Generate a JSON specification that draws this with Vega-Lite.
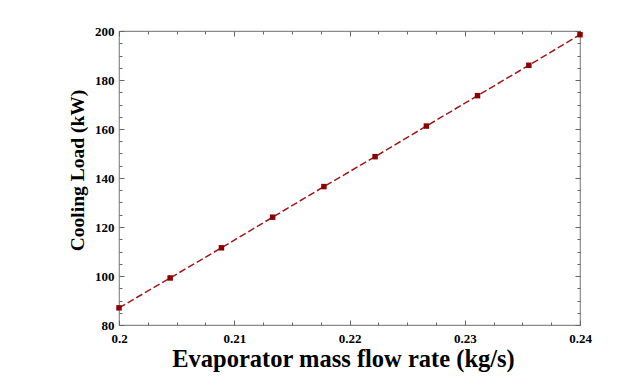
{
  "$schema": "https://vega.github.io/schema/vega-lite/v6.json",
  "width": 461,
  "height": 294,
  "autosize": {"type": "none"},
  "padding": {"left": 119, "top": 31, "right": 63, "bottom": 60},
  "background": "white",
  "config": {
    "view": {"stroke": "#8a8a8a", "strokeWidth": 1.2},
    "axis": {
      "grid": false,
      "domain": false,
      "tickColor": "#666666",
      "labelFont": "Liberation Serif",
      "labelFontWeight": "bold",
      "labelFontSize": 13,
      "labelColor": "black",
      "titleFont": "Liberation Serif",
      "titleFontWeight": "bold",
      "titleColor": "black"
    }
  },
  "data": {
    "values": [
      {"flow": 0.2, "load": 87},
      {"flow": 0.20444, "load": 99.2},
      {"flow": 0.20889, "load": 111.5},
      {"flow": 0.21333, "load": 124},
      {"flow": 0.21778, "load": 136.5},
      {"flow": 0.22222, "load": 148.7},
      {"flow": 0.22667, "load": 161.2},
      {"flow": 0.23111, "load": 173.6},
      {"flow": 0.23556, "load": 186},
      {"flow": 0.24, "load": 198.5}
    ]
  },
  "resolve": {"axis": {"x": "independent", "y": "independent"}},
  "layer": [
    {
      "mark": {"type": "line", "color": "#a01818", "strokeWidth": 1.5, "strokeDash": [7, 3]},
      "encoding": {
        "x": {"field": "flow", "type": "quantitative",
          "scale": {"domain": [0.2, 0.24], "nice": false, "zero": false},
          "axis": {"orient": "bottom", "values": [0.2, 0.21, 0.22, 0.23, 0.24], "format": "~g",
            "tickSize": -5, "labelPadding": 12, "labelFlush": false,
            "title": "Evaporator mass flow rate (kg/s)", "titleFontSize": 24.5, "titlePadding": 2, "titleX": 224}},
        "y": {"field": "load", "type": "quantitative",
          "scale": {"domain": [80, 200], "nice": false, "zero": false},
          "axis": {"orient": "left", "values": [80, 100, 120, 140, 160, 180, 200],
            "tickSize": -5, "labelPadding": 10, "labelFlush": false,
            "title": "Cooling Load (kW)", "titleFontSize": 19.5, "titlePadding": 7, "titleY": 139}}
      }
    },
    {
      "mark": {"type": "square", "color": "#8b0000", "opacity": 1, "size": 30},
      "encoding": {
        "x": {"field": "flow", "type": "quantitative",
          "axis": {"orient": "top", "values": [0.2, 0.21, 0.22, 0.23, 0.24], "tickSize": -5, "labels": false, "title": null}},
        "y": {"field": "load", "type": "quantitative",
          "axis": {"orient": "right", "values": [80, 100, 120, 140, 160, 180, 200], "tickSize": -5, "labels": false, "title": null}}
      }
    },
    {
      "mark": {"type": "point", "opacity": 0},
      "encoding": {
        "x": {"field": "flow", "type": "quantitative",
          "axis": {"orient": "bottom", "values": [0.2025, 0.205, 0.2075, 0.2125, 0.215, 0.2175, 0.2225, 0.225, 0.2275, 0.2325, 0.235, 0.2375], "tickSize": -3, "labels": false, "title": null}},
        "y": {"field": "load", "type": "quantitative",
          "axis": {"orient": "left", "values": [85, 90, 95, 105, 110, 115, 125, 130, 135, 145, 150, 155, 165, 170, 175, 185, 190, 195], "tickSize": -3, "labels": false, "title": null}}
      }
    },
    {
      "mark": {"type": "point", "opacity": 0},
      "encoding": {
        "x": {"field": "flow", "type": "quantitative",
          "axis": {"orient": "top", "values": [0.2025, 0.205, 0.2075, 0.2125, 0.215, 0.2175, 0.2225, 0.225, 0.2275, 0.2325, 0.235, 0.2375], "tickSize": -3, "labels": false, "title": null}},
        "y": {"field": "load", "type": "quantitative",
          "axis": {"orient": "right", "values": [85, 90, 95, 105, 110, 115, 125, 130, 135, 145, 150, 155, 165, 170, 175, 185, 190, 195], "tickSize": -3, "labels": false, "title": null}}
      }
    }
  ]
}
